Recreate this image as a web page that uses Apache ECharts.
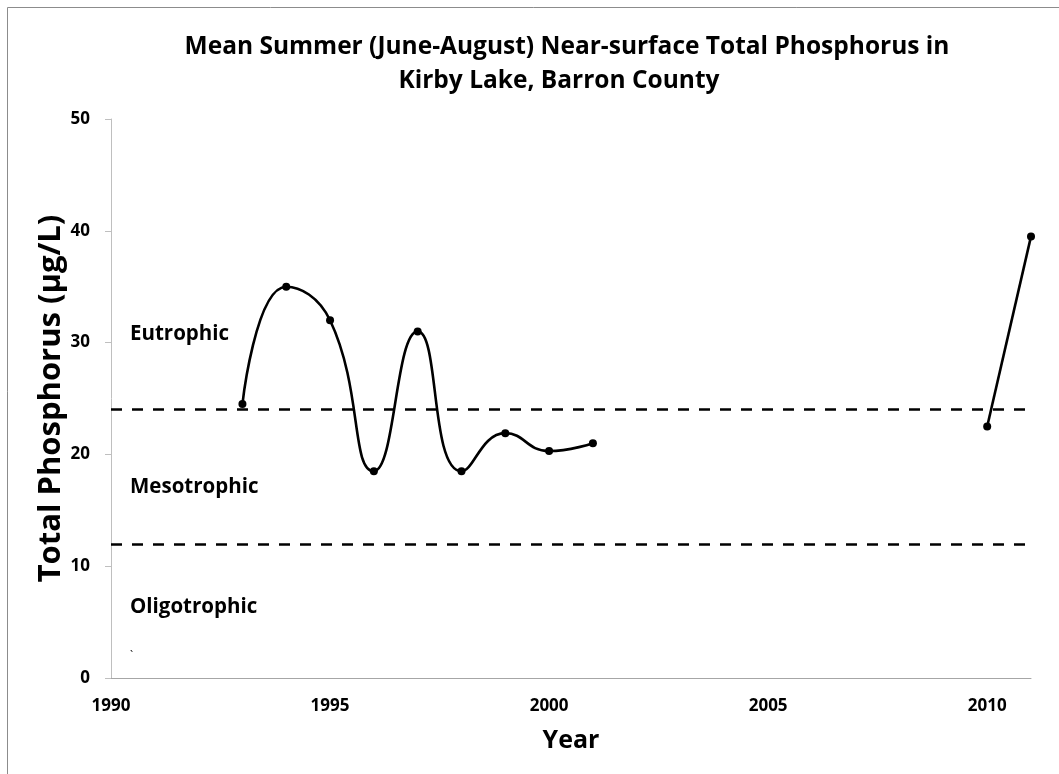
<!DOCTYPE html>
<html>
<head>
<meta charset="utf-8">
<script src="https://cdn.jsdelivr.net/npm/echarts@6/dist/echarts.min.js"></script>
<style>html,body{margin:0;padding:0;background:#fff}#c{width:1059px;height:774px}</style>
</head>
<body>
<div id="c"></div>
<script>
const titleLines = ["Mean Summer (June-August) Near-surface Total Phosphorus in", "Kirby Lake, Barron County"];
const xAxisName = "Year";
const yAxisName = "Total Phosphorus (µg/L)";
const period1Years = [1993, 1994, 1995, 1996, 1997, 1998, 1999, 2000, 2001];
const period1TP = [24.5, 35.0, 32.0, 18.5, 31.0, 18.5, 21.9, 20.3, 21.0];
const period2Years = [2010, 2011];
const period2TP = [22.5, 39.5];
const thresholds = [24, 12];
const trophicLabels = ["Eutrophic", "Mesotrophic", "Oligotrophic"];

const FONT = '"Open Sans", "Noto Sans", sans-serif';
const chart = echarts.init(document.getElementById('c'), null, {renderer: 'canvas'});

const lineStyle = {color: '#000', width: 2.6};
const itemStyle = {color: '#000'};
const titleStyle = {fontFamily: FONT, fontWeight: 'bold', fontSize: 24.5, color: '#000'};

const option = {
  animation: false,
  backgroundColor: '#fff',
  title: [
    {text: titleLines[0], left: 562, textAlign: 'center', top: 30, textStyle: titleStyle},
    {text: titleLines[1], left: 554, textAlign: 'center', top: 64, textStyle: titleStyle}
  ],
  grid: {left: 111, right: 28, top: 119, bottom: 96, containLabel: false},
  xAxis: {
    type: 'value', min: 1990, max: 2011, interval: 5,
    name: xAxisName, nameLocation: 'middle', nameGap: 50,
    nameTextStyle: {fontFamily: FONT, fontWeight: 'bold', fontSize: 25, color: '#000'},
    axisLine: {lineStyle: {color: '#a6a6a6', width: 1}},
    axisTick: {show: false},
    splitLine: {show: false},
    axisLabel: {showMaxLabel: false, margin: 20, formatter: v => String(v), fontFamily: FONT, fontWeight: 'bold', fontSize: 17, color: '#000'}
  },
  yAxis: {
    type: 'value', min: 0, max: 50, interval: 10,
    name: yAxisName, nameLocation: 'middle', nameGap: 44, nameRotate: 90, nameMoveOverlap: false,
    nameTextStyle: {fontFamily: FONT, fontWeight: 'bold', fontSize: 31, color: '#000'},
    axisLine: {show: true, lineStyle: {color: '#bfbfbf', width: 1}},
    axisTick: {show: true, length: 6, lineStyle: {color: '#bfbfbf'}},
    splitLine: {show: false},
    axisLabel: {margin: 21, fontFamily: FONT, fontWeight: 'bold', fontSize: 17, color: '#000'}
  },
  series: [
    {
      type: 'line', smooth: 0.5,
      data: period1Years.map((y, i) => [y, period1TP[i]]),
      symbol: 'circle', symbolSize: 8, lineStyle, itemStyle,
      markLine: {
        silent: true, symbol: ['none', 'none'], label: {show: false},
        lineStyle: {color: '#000', width: 2.6, type: [11, 10]},
        data: thresholds.map(v => ({yAxis: v}))
      },
      z: 3
    },
    {
      type: 'line', smooth: false,
      data: period2Years.map((y, i) => [y, period2TP[i]]),
      symbol: 'circle', symbolSize: 8, lineStyle, itemStyle, z: 3
    }
  ],
  graphic: [
    {type: 'rect', shape: {x: 7.5, y: 7.5, width: 1200, height: 900}, style: {fill: 'none', stroke: '#8c8c8c', lineWidth: 1}, silent: true},
    {type: 'text', x: 130, y: 334, style: {text: trophicLabels[0], font: 'bold 20.5px ' + FONT, fill: '#000', verticalAlign: 'middle'}},
    {type: 'text', x: 130, y: 487, style: {text: trophicLabels[1], font: 'bold 20.5px ' + FONT, fill: '#000', verticalAlign: 'middle'}},
    {type: 'text', x: 130, y: 607, style: {text: trophicLabels[2], font: 'bold 20.5px ' + FONT, fill: '#000', verticalAlign: 'middle'}},
    {type: 'text', x: 130, y: 656, style: {text: '`', font: '11px ' + FONT, fill: '#000', verticalAlign: 'middle'}}
  ]
};
chart.setOption(option);
</script>
</body>
</html>
